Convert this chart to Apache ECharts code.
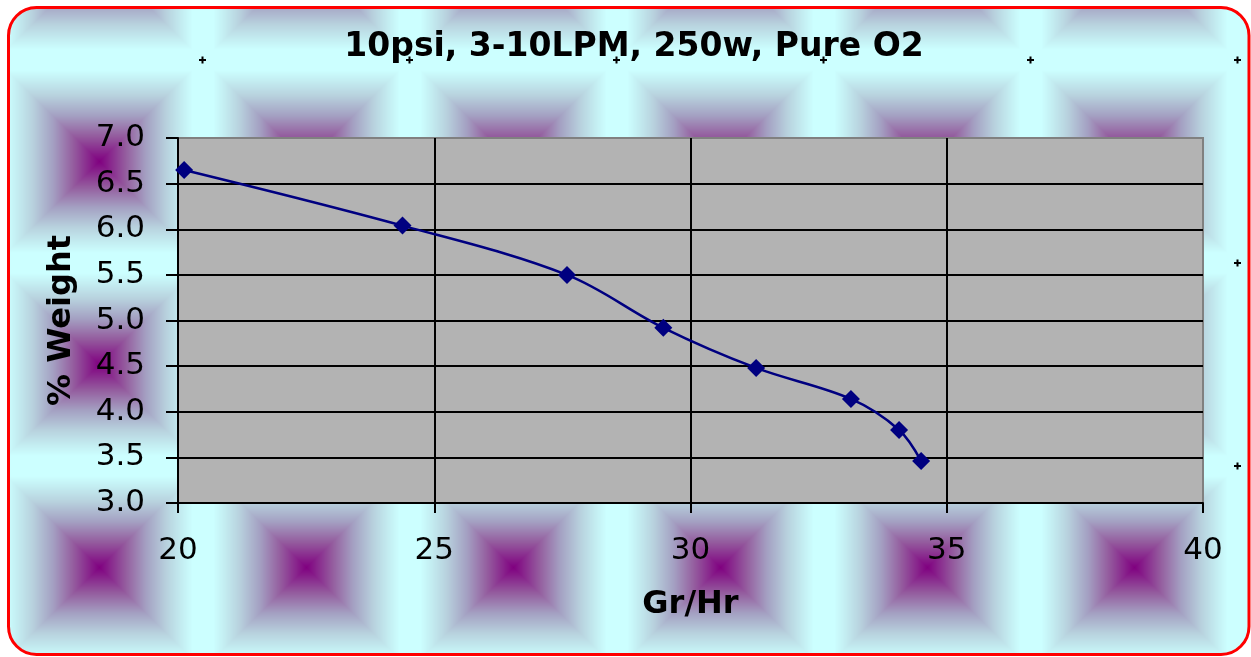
<!DOCTYPE html>
<html>
<head>
<meta charset="utf-8">
<script src="https://cdn.jsdelivr.net/npm/echarts@6/dist/echarts.min.js"></script>
<style>
  html, body { margin: 0; padding: 0; background: #fff; }
  #chart { width: 1251px; height: 657px; }
</style>
</head>
<body>
<div id="chart"></div>
<script>
// flow rate (Gr/Hr) vs % weight
const grPerHr = [20.12, 24.38, 27.59, 29.47, 31.28, 33.13, 34.07, 34.50];
const pctWeight = [6.65, 6.04, 5.50, 4.92, 4.48, 4.14, 3.80, 3.46];

const titleText = '10psi, 3-10LPM, 250w, Pure O2';
const xName = 'Gr/Hr';
const yName = '% Weight';

const fontFamily = '"DejaVu Sans", Verdana, sans-serif';

// gradient stops of the background tile, centre -> edge
const tileStops = [
  [0.0, [128, 0, 128]],
  [0.25, [148, 92, 158]],
  [0.45, [164, 160, 194]],
  [0.65, [184, 210, 222]],
  [0.8, [196, 238, 242]],
  [0.9, [204, 255, 255]],
  [1.0, [204, 255, 255]]
];

function stopColor(t) {
  for (let k = 1; k < tileStops.length; k++) {
    if (t <= tileStops[k][0]) {
      const [t0, c0] = tileStops[k - 1];
      const [t1, c1] = tileStops[k];
      const f = (t - t0) / (t1 - t0);
      return c0.map((v, j) => v + (c1[j] - v) * f);
    }
  }
  return tileStops[tileStops.length - 1][1];
}

// background tile: square "from center" gradient purple -> pale cyan
function makeTile() {
  const w = 207, h = 203;
  const c = document.createElement('canvas');
  c.width = w;
  c.height = h;
  const ctx = c.getContext('2d');
  const img = ctx.createImageData(w, h);
  for (let y = 0; y < h; y++) {
    for (let x = 0; x < w; x++) {
      let dx = x + 0.5 - 99.5;
      let dy = y + 0.5 - 161.5;
      if (dy < -h / 2) dy += h;
      if (dy > h / 2) dy -= h;
      const t = Math.min(1, Math.max(Math.abs(dx) / (w / 2), Math.abs(dy) / (h / 2)));
      const col = stopColor(t);
      const i = (y * w + x) * 4;
      img.data[i] = col[0];
      img.data[i + 1] = col[1];
      img.data[i + 2] = col[2];
      img.data[i + 3] = 255;
    }
  }
  ctx.putImageData(img, 0, 0);
  // little corner crosses
  ctx.fillStyle = '#000';
  ctx.fillRect(199, 59, 7, 2);
  ctx.fillRect(201.5, 56.5, 2, 7);
  return c;
}

const chart = echarts.init(document.getElementById('chart'));

chart.setOption({
  backgroundColor: '#ffffff',
  animation: false,
  title: {
    text: titleText,
    left: 629,
    top: 26,
    textAlign: 'center',
    textStyle: { fontFamily, fontSize: 33, fontWeight: 'bold', color: '#000' }
  },
  graphic: [{
    type: 'rect',
    z: -10,
    shape: { x: 8.5, y: 7.5, width: 1240.5, height: 647, r: 28 },
    style: {
      fill: { image: makeTile(), repeat: 'repeat' },
      stroke: '#ff0000',
      lineWidth: 3
    }
  }],
  grid: {
    left: 178,
    top: 138,
    right: 48,
    bottom: 154,
    show: true,
    backgroundColor: '#b3b3b3',
    borderColor: '#808080',
    borderWidth: 2
  },
  xAxis: {
    type: 'value',
    min: 20,
    max: 40,
    interval: 5,
    name: xName,
    nameLocation: 'middle',
    nameGap: 86,
    nameTextStyle: { fontFamily, fontSize: 32, fontWeight: 'bold', color: '#000' },
    axisLine: { onZero: false, lineStyle: { color: '#000', width: 2 } },
    axisTick: { length: 10, lineStyle: { color: '#000', width: 2 } },
    axisLabel: { margin: 32, fontFamily, fontSize: 31, color: '#000' },
    splitLine: { show: true, showMaxLine: false, lineStyle: { color: '#000', width: 2 } }
  },
  yAxis: {
    type: 'value',
    min: 3,
    max: 7,
    interval: 0.5,
    name: yName,
    nameLocation: 'middle',
    nameRotate: 90,
    nameGap: 100,
    nameTextStyle: { fontFamily, fontSize: 32, fontWeight: 'bold', color: '#000' },
    axisLine: { show: true, onZero: false, lineStyle: { color: '#000', width: 2 } },
    axisTick: { show: true, length: 12, lineStyle: { color: '#000', width: 2 } },
    axisLabel: {
      margin: 33,
      fontFamily,
      fontSize: 31,
      color: '#000',
      formatter: v => v.toFixed(1)
    },
    splitLine: { show: true, showMaxLine: false, lineStyle: { color: '#000', width: 2 } }
  },
  series: [{
    type: 'line',
    data: grPerHr.map((x, i) => [x, pctWeight[i]]),
    smooth: 0.35,
    symbol: 'diamond',
    symbolSize: 18,
    lineStyle: { color: '#000080', width: 2.5 },
    itemStyle: { color: '#000080' }
  }]
});
</script>
</body>
</html>
